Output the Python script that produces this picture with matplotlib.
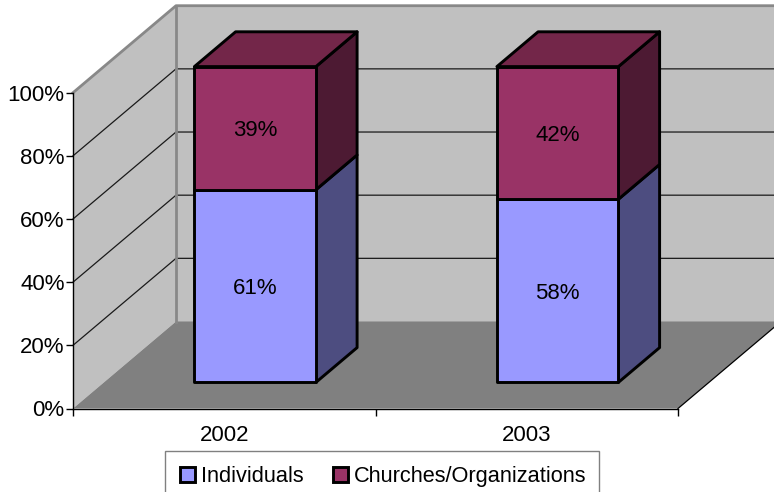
import matplotlib
matplotlib.use('Agg')
import matplotlib.pyplot as plt
from matplotlib.patches import Patch, Polygon, Rectangle

plt.rcParams['font.family'] = ['Liberation Sans', 'DejaVu Sans']

years = ['2002', '2003']
individuals = [61, 58]
churches = [39, 42]
labels = ['Individuals', 'Churches/Organizations']
y_ticks = [0, 20, 40, 60, 80, 100]

W, H = 774, 492
# depth of the 3d box, in data units
DX = 103 / 302.5
DY = 87 / 315.8 * 100
BAR_W = 121.5 / 302.5

WALL = '#C0C0C0'
FLOOR = '#808080'
EDGE = '#888888'
FONT = 16
LEG_FONT = 15.7


def proj(x, v, d):
    return (x + d * DX, v + d * DY)


def face(ax, pts, color, z=2, ec='black', lw=2.1):
    ax.add_patch(Polygon(pts, closed=True, fc=color, ec=ec, lw=lw, zorder=z,
                         clip_on=False, joinstyle='round'))


def draw_bar(ax, x, v0, v1, front, side, top=None):
    l, r = x - BAR_W / 2, x + BAR_W / 2
    d0, d1 = 0.3, 0.7
    face(ax, [proj(r, v0, d0), proj(r, v0, d1), proj(r, v1, d1), proj(r, v1, d0)], side)
    if top:
        face(ax, [proj(l, v1, d0), proj(r, v1, d0), proj(r, v1, d1), proj(l, v1, d1)], top)
    face(ax, [proj(l, v0, d0), proj(r, v0, d0), proj(r, v1, d0), proj(l, v1, d0)], front, z=3)


fig = plt.figure(figsize=(W / 100, H / 100), dpi=100)
ax = fig.add_axes([73 / W, 1 - 408.5 / H, 605 / W, 315.8 / H])
ax.set_xlim(0, 2)
ax.set_ylim(0, 100)
ax.patch.set_visible(False)

# walls and floor
face(ax, [proj(0, 0, 0), proj(0, 0, 1), proj(0, 100, 1), proj(0, 100, 0)], WALL, z=0, ec='none', lw=0)
face(ax, [proj(0, 0, 1), proj(2, 0, 1), proj(2, 100, 1), proj(0, 100, 1)], WALL, z=0, ec='none', lw=0)
face(ax, [proj(0, 0, 0), proj(2, 0, 0), proj(2, 0, 1), proj(0, 0, 1)], FLOOR, z=0.5, ec='none', lw=0)

# gridlines
for v in y_ticks[1:-1]:
    a, b, c = proj(0, v, 0), proj(0, v, 1), proj(2, v, 1)
    ax.plot([a[0], b[0], c[0]], [a[1], b[1], c[1]], color='#1a1a1a', lw=0.9, zorder=1, clip_on=False)

# grey outline of the walls
a, b, c, d = proj(0, 100, 0), proj(0, 100, 1), proj(2, 100, 1), proj(0, 0, 1)
ax.plot([a[0], b[0], c[0]], [a[1], b[1], c[1]], color=EDGE, lw=2, zorder=1, clip_on=False)
ax.plot([b[0], d[0]], [b[1], d[1]], color=EDGE, lw=2, zorder=1, clip_on=False)
e, f = proj(2, 0, 0), proj(2, 0, 1)
ax.plot([e[0], f[0]], [e[1], f[1]], color='black', lw=0.9, zorder=1, clip_on=False)

# bars
for i in range(len(years)):
    ind, chu = individuals[i], churches[i]
    draw_bar(ax, i + 0.5, 0, ind, '#9999FF', '#4D4D80')
    draw_bar(ax, i + 0.5, ind, ind + chu, '#993366', '#4D1A33', '#732649')
    vx, vy = proj(i + 0.5, ind / 2, 0.3)
    ax.text(vx, vy, f'{ind}%', ha='center', va='center_baseline', fontsize=FONT, zorder=5)
    vx, vy = proj(i + 0.5, ind + chu / 2, 0.3)
    ax.text(vx, vy, f'{chu}%', ha='center', va='center_baseline', fontsize=FONT, zorder=5)

for s in ['top', 'right']:
    ax.spines[s].set_visible(False)
for s in ['left', 'bottom']:
    ax.spines[s].set_linewidth(1.0)
    ax.spines[s].set_zorder(2)

ax.set_yticks(y_ticks)
ax.set_yticklabels([f'{v}%' for v in y_ticks], fontsize=FONT)
ax.set_xticks([0, 1, 2])
ax.set_xticklabels([])
ax.set_xticks([0.5, 1.5], years, minor=True, fontsize=FONT)
ax.tick_params(axis='x', which='minor', length=0, pad=12)
ax.tick_params(axis='x', which='major', length=5, width=1)
ax.tick_params(axis='y', length=5, width=1, pad=1)

# legend box runs off the bottom of the picture in the original
fig.add_artist(Rectangle((165 / W, -10 / H), 434 / W, 51 / H, transform=fig.transFigure,
                         fc='white', ec='#808080', lw=1.0))
handles = [Patch(fc='#9999FF', ec='black', lw=2.1), Patch(fc='#993366', ec='black', lw=2.1)]
leg = fig.legend(handles, labels, ncol=2, loc='upper left', bbox_to_anchor=(165 / W, 1 - 451 / H),
                 borderaxespad=0, fontsize=LEG_FONT, frameon=False, handlelength=0.7, handleheight=0.7,
                 handletextpad=0.28, columnspacing=1.33, borderpad=0.68)

fig.savefig('out.png', dpi=100)
